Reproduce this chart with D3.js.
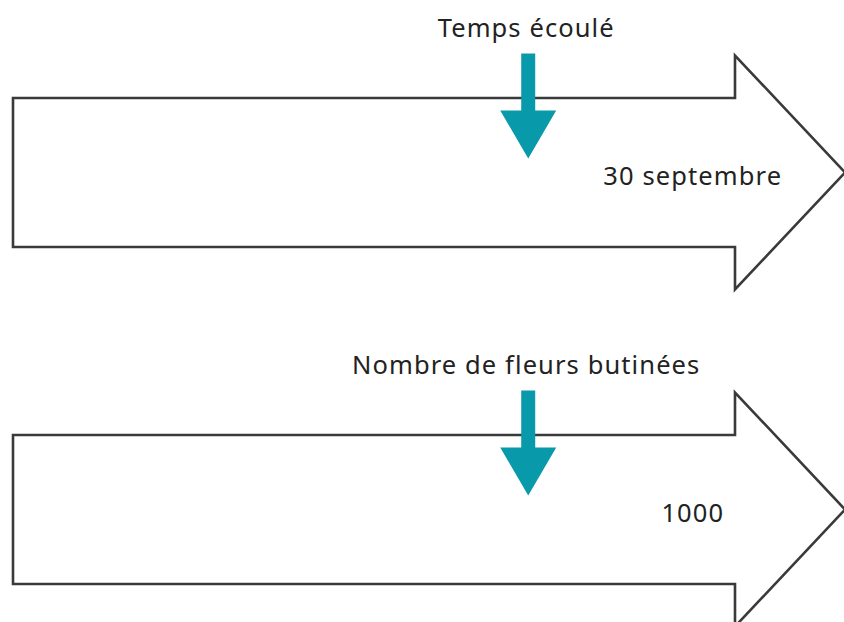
<!DOCTYPE html>
<html><head><meta charset="utf-8">
<script src="https://cdn.jsdelivr.net/npm/d3@7"></script>
<style>html,body{margin:0;padding:0;background:#fff;}svg{display:block;}</style>
</head><body>
<svg id="c" width="844" height="622"></svg>
<script>
const categories = ["Temps écoulé", "Nombre de fleurs butinées"];
const valueLabels = ["30 septembre", "1000"];
const markerPos = [0.62, 0.62];
const valuePos = [0.818, 0.818];

const W = 844, H = 622;
const svg = d3.select("#c");
const y = d3.scalePoint().domain(categories).range([172.5, 509.5]);
const x = d3.scaleLinear().domain([0, 1]).range([13, 844]);

const bodyHalf = 74.5, headHalf = 117, notchX = 735, tipX = 845;
const font = "'Noto Sans', Lato, sans-serif";
const g = svg.selectAll("g.row").data(categories).join("g").attr("class", "row");

g.append("path")
  .attr("d", d => {
    const c = y(d);
    return `M${x(0)},${c-bodyHalf} L${notchX},${c-bodyHalf} L${notchX},${c-headHalf} L${tipX},${c} L${notchX},${c+headHalf} L${notchX},${c+bodyHalf} L${x(0)},${c+bodyHalf} Z`;
  })
  .attr("fill", "#fff").attr("stroke", "#3a3a3a").attr("stroke-width", 2.6)
  .attr("stroke-linejoin", "miter");

g.append("text")
  .attr("x", (d, i) => x(markerPos[i]) - 2)
  .attr("y", d => y(d) - 135.5)
  .attr("text-anchor", "middle")
  .attr("font-family", font)
  .attr("font-size", 25.5)
  .attr("letter-spacing", 1.1)
  .attr("fill", "#222")
  .text(d => d);

g.append("text")
  .attr("x", (d, i) => x(valuePos[i]))
  .attr("y", d => y(d) + 12.5)
  .attr("text-anchor", "middle")
  .attr("font-family", font)
  .attr("font-size", 25.5)
  .attr("letter-spacing", 1.1)
  .attr("fill", "#222")
  .text((d, i) => valueLabels[i]);

g.append("path")
  .attr("d", (d, i) => {
    const c = y(d), m = x(markerPos[i]);
    return `M${m-7},${c-119} L${m+7},${c-119} L${m+7},${c-62} L${m+28},${c-62} L${m},${c-14} L${m-28},${c-62} L${m-7},${c-62} Z`;
  })
  .attr("fill", "#0899ab");
</script>
</body></html>
